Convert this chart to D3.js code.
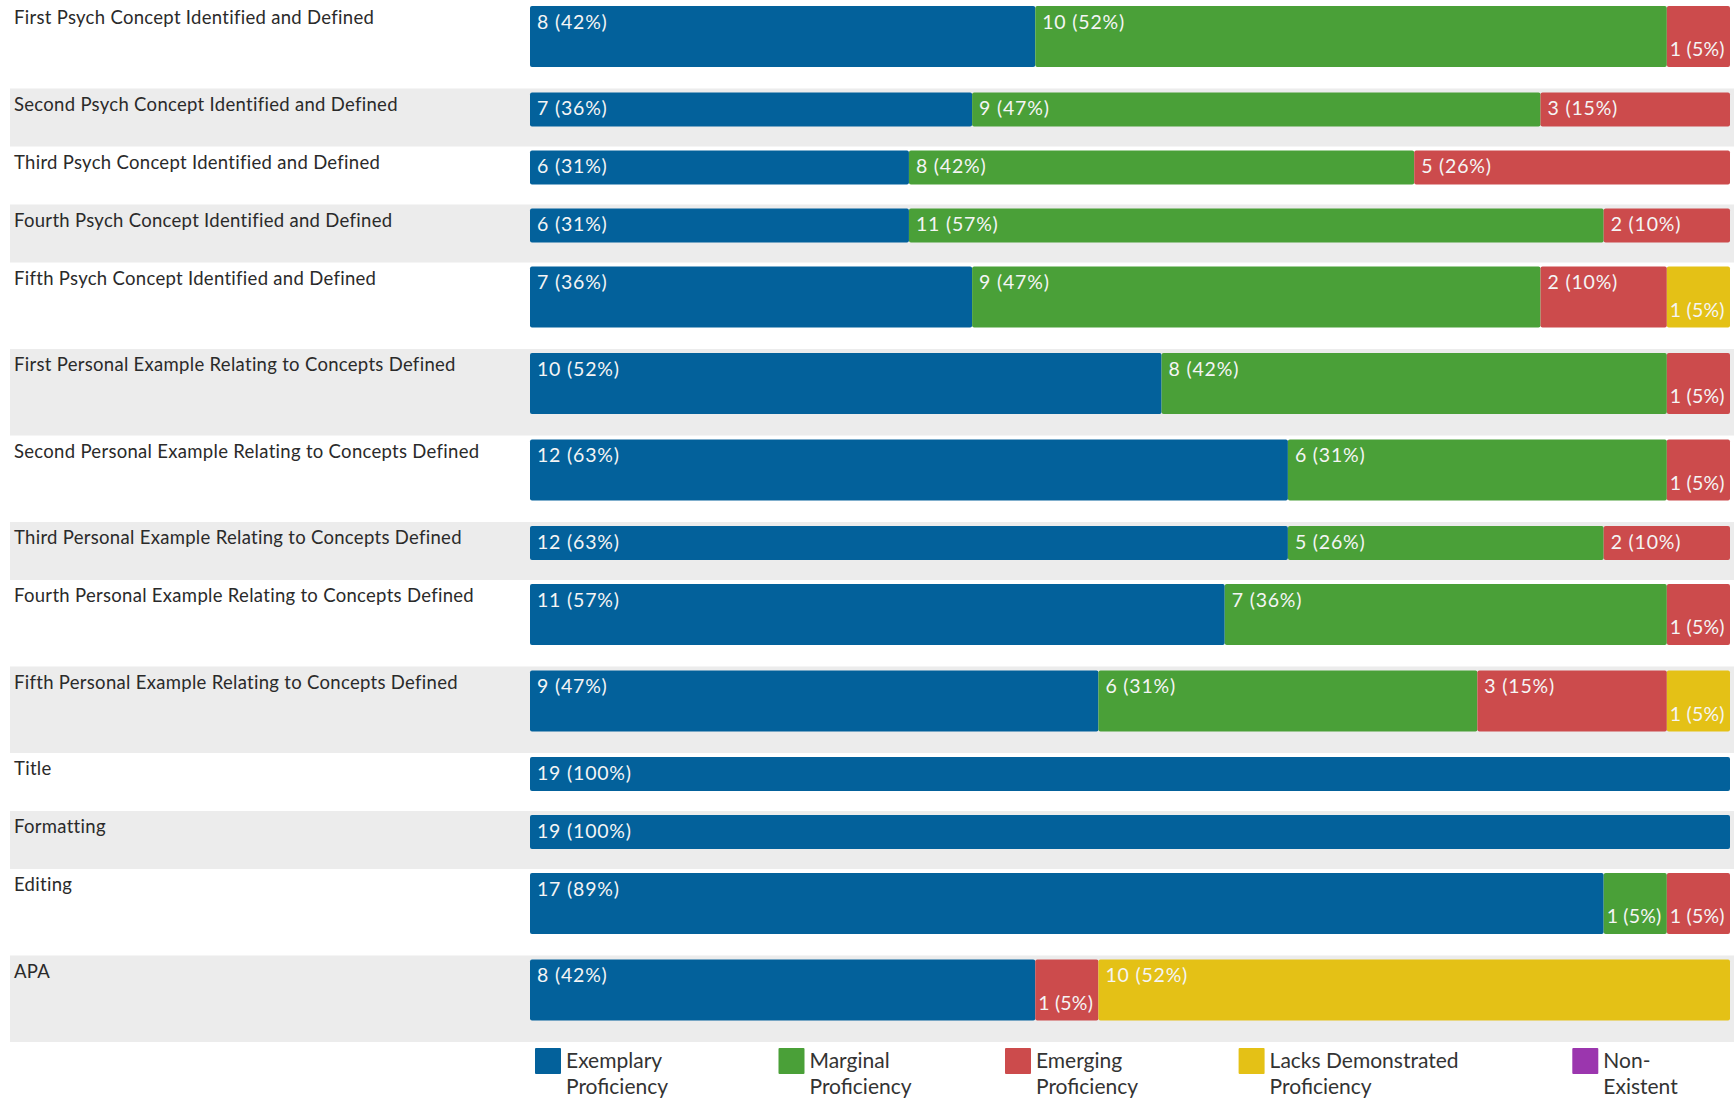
<!DOCTYPE html>
<html>
<head>
<meta charset="utf-8">
<script src="https://cdn.jsdelivr.net/npm/d3@7/dist/d3.min.js"></script>
<style>
  html, body { margin: 0; padding: 0; background: #ffffff; }
  svg { display: block; }
  text { font-family: Lato, "Open Sans", sans-serif; }
</style>
</head>
<body>
<svg id="chart" width="1734" height="1099"></svg>
<script>
// ---------- DATA ----------
const categories = [
  "First Psych Concept Identified and Defined",
  "Second Psych Concept Identified and Defined",
  "Third Psych Concept Identified and Defined",
  "Fourth Psych Concept Identified and Defined",
  "Fifth Psych Concept Identified and Defined",
  "First Personal Example Relating to Concepts Defined",
  "Second Personal Example Relating to Concepts Defined",
  "Third Personal Example Relating to Concepts Defined",
  "Fourth Personal Example Relating to Concepts Defined",
  "Fifth Personal Example Relating to Concepts Defined",
  "Title",
  "Formatting",
  "Editing",
  "APA"
];
const seriesNames = ["Exemplary Proficiency", "Marginal Proficiency", "Emerging Proficiency", "Lacks Demonstrated Proficiency", "Non-Existent"];
const legendLines = [["Exemplary", "Proficiency"], ["Marginal", "Proficiency"], ["Emerging", "Proficiency"], ["Lacks Demonstrated", "Proficiency"], ["Non-", "Existent"]];
const exemplary   = [8, 7, 6, 6, 7, 10, 12, 12, 11, 9, 19, 19, 17, 8];
const marginal    = [10, 9, 8, 11, 9, 8, 6, 5, 7, 6, 0, 0, 1, 0];
const emerging    = [1, 3, 5, 2, 2, 1, 1, 2, 1, 3, 0, 0, 1, 1];
const lacks       = [0, 0, 0, 0, 1, 0, 0, 0, 0, 1, 0, 0, 0, 10];
const nonExistent = [0, 0, 0, 0, 0, 0, 0, 0, 0, 0, 0, 0, 0, 0];
const totalStudents = 19;

// ---------- STYLE / LAYOUT ----------
const colors = ["#03619b", "#4aa038", "#cc4b4c", "#e4c116", "#9b36ae"];
const W = 1734, H = 1099;
const barLeft = 530, barRight = 1730;
const rowTop0 = 2, shortRow = 58, tallRow = 86.5;
const barPad = 4, shortBar = 34, tallBar = 61;
const minInlineWidth = 80;
const legendX = [535, 778.5, 1005, 1238.6, 1572.3];

const series = [exemplary, marginal, emerging, lacks, nonExistent];
const svg = d3.select("#chart");

const x = d3.scaleLinear().domain([0, totalStudents]).range([barLeft, barRight]);

// build rows
const rows = categories.map((cat, i) => {
  let start = 0;
  const segs = series.map((s, k) => {
    const v = s[i];
    const seg = { k, v, x0: start, x1: start + v };
    start += v;
    return seg;
  }).filter(d => d.v > 0);
  segs.forEach(d => {
    d.wrap = (x(d.x1) - x(d.x0)) < minInlineWidth;
    d.label = d.v + " (" + Math.floor(d.v / totalStudents * 100) + "%)";
  });
  const tall = segs.some(d => d.wrap);
  return { cat, i, segs, tall };
});
let yy = rowTop0;
rows.forEach(r => { r.top = yy; r.h = r.tall ? tallRow : shortRow; yy += r.h; });

// row backgrounds
svg.selectAll("rect.rowbg").data(rows.filter(r => r.i % 2 === 1)).join("rect")
  .attr("class", "rowbg")
  .attr("x", 10).attr("width", W - 10)
  .attr("y", r => r.top).attr("height", r => r.h)
  .attr("fill", "#ececec");

// row labels
svg.selectAll("text.rowlabel").data(rows).join("text")
  .attr("class", "rowlabel")
  .attr("x", 14).attr("y", r => r.top + 22)
  .attr("font-size", 18.5).attr("letter-spacing", 0.3).attr("fill", "#2a2a2a")
  .text(r => r.cat);

// bars
const g = svg.selectAll("g.row").data(rows).join("g").attr("class", "row");
g.each(function (r) {
  const bt = r.top + barPad;
  const bh = r.tall ? tallBar : shortBar;
  const sel = d3.select(this);
  sel.selectAll("rect").data(r.segs).join("rect")
    .attr("x", d => x(d.x0)).attr("width", d => x(d.x1) - x(d.x0))
    .attr("y", bt).attr("height", bh)
    .attr("rx", 2).attr("ry", 2)
    .attr("fill", d => colors[d.k]);
  sel.selectAll("text").data(r.segs).join("text")
    .attr("x", d => x(d.x0) + (d.wrap ? 3 : 7))
    .attr("y", d => bt + (d.wrap ? 50 : 22.5))
    .attr("font-size", 19.5).attr("letter-spacing", d => d.wrap ? 0.2 : 0.8).attr("fill", "#f5f5f5")
    .text(d => d.label);
});

// legend
const lg = svg.selectAll("g.legend").data(seriesNames).join("g")
  .attr("class", "legend")
  .attr("transform", (d, i) => `translate(${legendX[i]},1048)`);
lg.append("rect").attr("width", 26).attr("height", 26).attr("rx", 1)
  .attr("fill", (d, i) => colors[i]);
lg.each(function (d, i) {
  const t = d3.select(this).append("text").attr("font-size", 21).attr("fill", "#333");
  legendLines[i].forEach((ln, j) => {
    t.append("tspan").attr("x", 31).attr("y", 20 + j * 26).text(ln);
  });
});
</script>
</body>
</html>
